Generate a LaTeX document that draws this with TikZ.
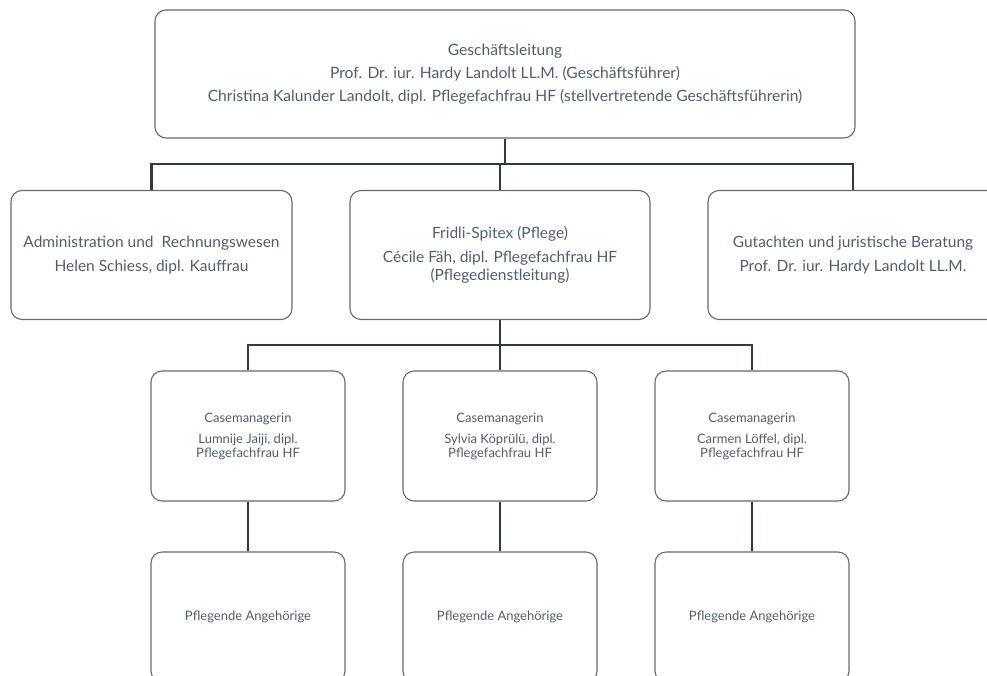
\documentclass[tikz,border=0pt]{standalone}
\usepackage{fontspec}
\setmainfont{Lato}
\definecolor{txtgray}{RGB}{80,92,112}
\definecolor{boxgray}{RGB}{105,105,105}
\definecolor{linenavy}{RGB}{46,57,75}
\tikzset{
  unit/.style={draw=boxgray,line width=1.1pt,rounded corners=11pt,align=center,text=txtgray,inner sep=0pt,font=\fontsize{15.5}{24}\selectfont},
  mainunit/.style={unit,minimum width=700pt,minimum height=128pt},
  dept/.style={unit,minimum width=281pt,minimum height=129pt},
  staff/.style={unit,minimum width=194pt,minimum height=130pt,font=\fontsize{13}{13.5}\selectfont},
  conn/.style={draw=linenavy,line width=2.6pt},
}
\begin{document}
\begin{tikzpicture}[x=1pt,y=-1pt]
\useasboundingbox (0,0) rectangle (987,675);
\clip (0,0) rectangle (987,675);
% top
\node[mainunit,font=\fontsize{15.6}{23}\selectfont] (gl) at (505,74) {Geschäftsleitung\\Prof. Dr. iur. Hardy Landolt LL.M. (Geschäftsführer)\\Christina Kalunder Landolt, dipl. Pflegefachfrau HF (stellvertretende Geschäftsführerin)};
% departments
\node[dept] (adm) at (151.5,255) {Administration und\ \ Rechnungswesen\\Helen Schiess, dipl. Kauffrau};
\node[dept,minimum width=300pt,font=\fontsize{15.5}{18}\selectfont] (spitex) at (500,255) {Fridli-Spitex (Pflege)\\[6pt]Cécile Fäh, dipl. Pflegefachfrau HF\\(Pflegedienstleitung)};
\node[dept,minimum width=290pt] (jur) at (853,255) {Gutachten und juristische Beratung\\Prof. Dr. iur. Hardy Landolt LL.M.};
% case managers
\node[staff] (cm1) at (248,436) {Casemanagerin\\[8pt]Lumnije Jaiji, dipl.\\Pflegefachfrau HF};
\node[staff] (cm2) at (500,436) {Casemanagerin\\[8pt]Sylvia Köprülü, dipl.\\Pflegefachfrau HF};
\node[staff] (cm3) at (752,436) {Casemanagerin\\[8pt]Carmen Löffel, dipl.\\Pflegefachfrau HF};
% relatives
\node[staff] (pa1) at (248,617) {Pflegende Angehörige};
\node[staff] (pa2) at (500,617) {Pflegende Angehörige};
\node[staff] (pa3) at (752,617) {Pflegende Angehörige};
% connectors
\coordinate (bus1) at (500,164);
\coordinate (bus2) at (500,345);
\draw[conn] (gl.south) -- (gl.south |- bus1);
\draw[conn] (adm.north) |- (bus1) -| (jur.north);
\draw[conn] (spitex.north) -- (bus1);
\draw[conn] (spitex.south) -- (bus2);
\draw[conn] (cm1.north) |- (bus2) -| (cm3.north);
\draw[conn] (cm2.north) -- (bus2);
\draw[conn] (cm1.south) -- (pa1.north);
\draw[conn] (cm2.south) -- (pa2.north);
\draw[conn] (cm3.south) -- (pa3.north);
\end{tikzpicture}
\end{document}
